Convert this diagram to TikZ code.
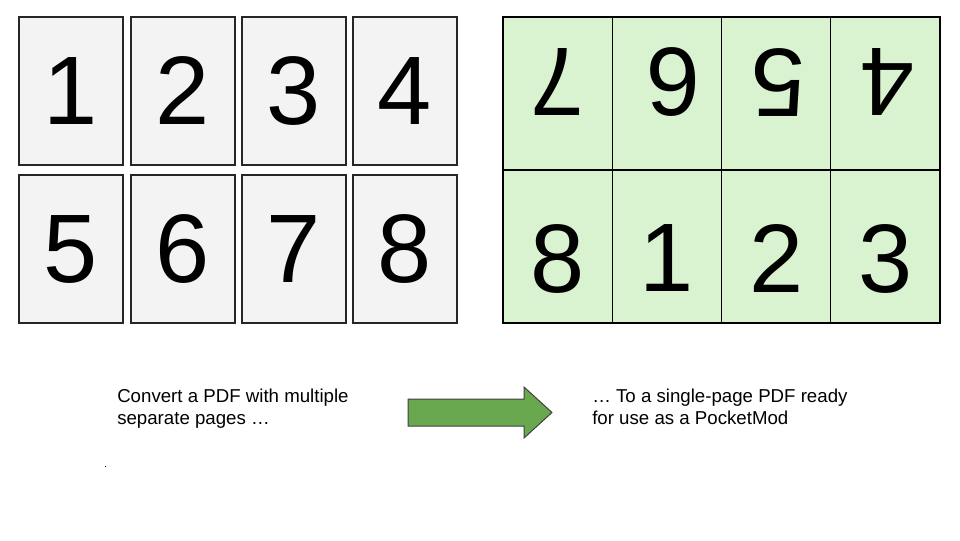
\documentclass[tikz,border=0pt]{standalone}
\usepackage{fontspec}
\setmainfont{Liberation Sans}
\definecolor{pagegray}{HTML}{F3F3F3}
\definecolor{cellgreen}{HTML}{D9F2D0}
\definecolor{arrowgreen}{HTML}{6AA84F}
\begin{document}
\begin{tikzpicture}[x=0.75pt,y=-0.75pt,
  page/.style={draw=black!85, line width=1.1pt, fill=pagegray, inner sep=0pt,
    minimum width=78pt, minimum height=111pt, font=\fontsize{73}{73}\selectfont},
  cell/.style={draw=black, line width=0.8pt, fill=cellgreen, inner sep=0pt,
    minimum width=81.94pt, minimum height=114.75pt},
  updigit/.style={inner sep=0pt, yshift=8.5pt, rotate=180, font=\fontsize{73}{73}\selectfont},
  lowdigit/.style={inner sep=0pt, yshift=-9pt, font=\fontsize{73}{73}\selectfont},
  caption/.style={align=left, inner sep=0pt, font=\fontsize{14}{16}\selectfont},
  bigarrow/.style={draw=black!75, line width=0.75pt, fill=arrowgreen}]
\useasboundingbox (0,0) rectangle (960,540);
% left pages
\node[page] (p1) at (71,91) {1};
\node[page] (p2) at (183,91) {2};
\node[page] (p3) at (294,91) {3};
\node[page] (p4) at (405,91) {4};
\node[page] (p5) at (71,249) {5};
\node[page] (p6) at (183,249) {6};
\node[page] (p7) at (294,249) {7};
\node[page] (p8) at (405,249) {8};
% right sheet
\node[cell, label={[updigit]center:7}] (c7) at (557.625,93.5) {};
\node[cell, label={[xshift=5pt, updigit]center:6}] (c6) at (666.875,93.5) {};
\node[cell, label={[xshift=1.5pt, updigit]center:5}] (c5) at (776.125,93.5) {};
\node[cell, label={[xshift=1.5pt, updigit]center:4}] (c4) at (885.375,93.5) {};
\node[cell, label={[lowdigit]center:8}] (c8) at (557.625,246.5) {};
\node[cell, label={[lowdigit]center:1}] (c1) at (666.875,246.5) {};
\node[cell, label={[lowdigit]center:2}] (c2) at (776.125,246.5) {};
\node[cell, label={[lowdigit]center:3}] (c3) at (885.375,246.5) {};
% captions
\node[caption, anchor=north west] (t1) at (117,389) {Convert a PDF with multiple\\separate pages …};
\node[caption, anchor=north west] (t2) at (592,389) {… To a single-page PDF ready\\for use as a PocketMod};
% arrow
\draw[bigarrow] (408,399) -- (524,399) -- (524,387) -- (552,412.5) -- (524,438) -- (524,426) -- (408,426) -- cycle;
% stray dot
\fill[blue!40!black] (105.5,466.5) circle[radius=0.4pt];
\end{tikzpicture}
\end{document}
